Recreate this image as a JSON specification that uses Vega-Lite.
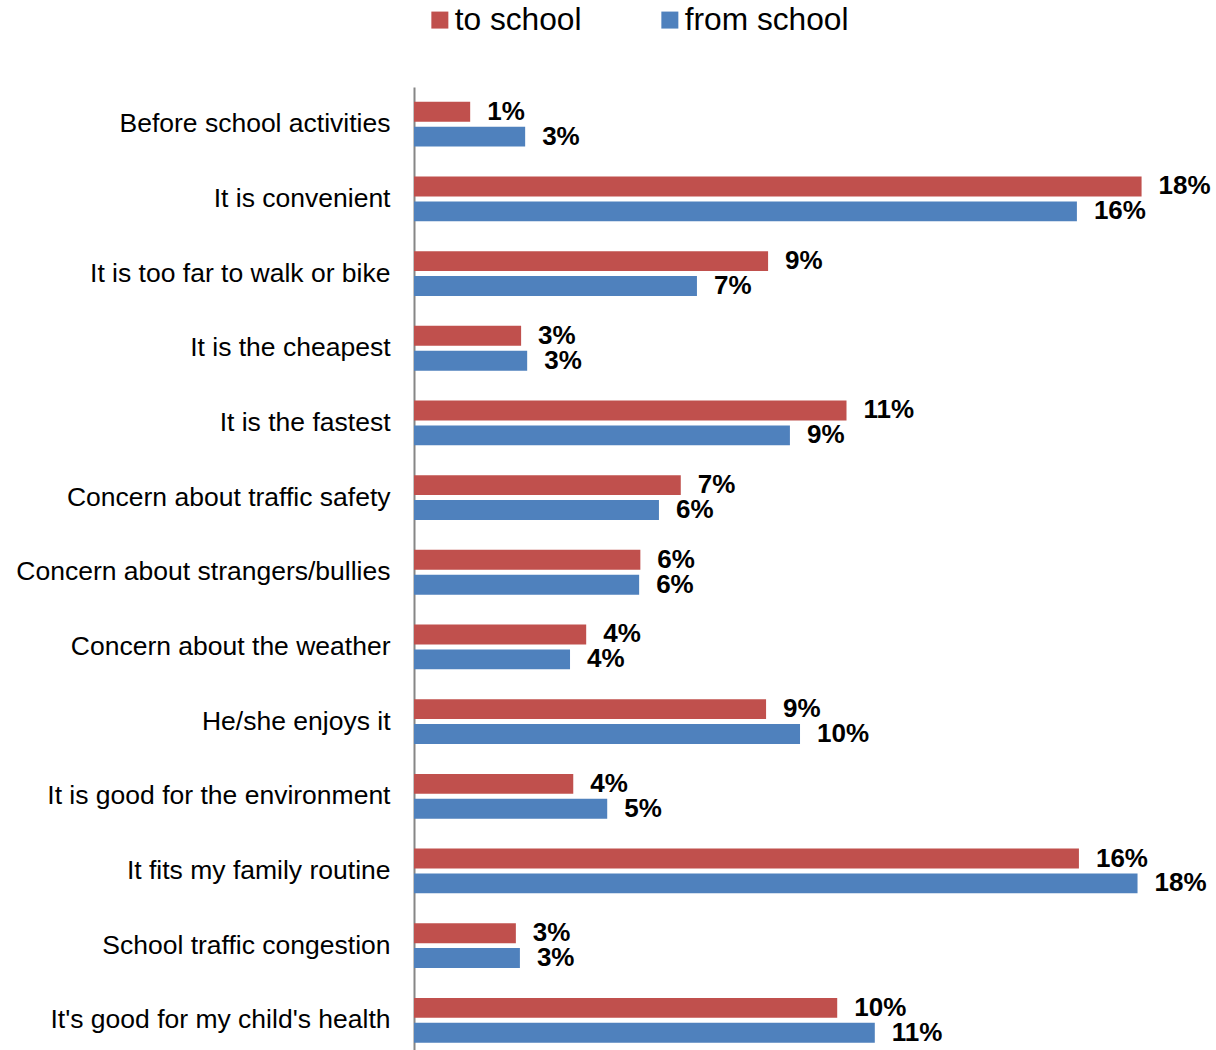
{
  "$schema": "https://vega.github.io/schema/vega-lite/v6.json",
  "autosize": {"type": "none"},
  "width": 768,
  "height": 963,
  "padding": {"left": 414, "top": 87, "right": 34, "bottom": 0},
  "background": "white",
  "config": {"view": {"stroke": null}, "font": "Liberation Sans"},
  "data": {"values": [
    {"reason": "Before school activities", "direction": "to school", "value": 0.0139},
    {"reason": "Before school activities", "direction": "from school", "value": 0.0275},
    {"reason": "It is convenient", "direction": "to school", "value": 0.180},
    {"reason": "It is convenient", "direction": "from school", "value": 0.164},
    {"reason": "It is too far to walk or bike", "direction": "to school", "value": 0.0876},
    {"reason": "It is too far to walk or bike", "direction": "from school", "value": 0.070},
    {"reason": "It is the cheapest", "direction": "to school", "value": 0.0265},
    {"reason": "It is the cheapest", "direction": "from school", "value": 0.028},
    {"reason": "It is the fastest", "direction": "to school", "value": 0.107},
    {"reason": "It is the fastest", "direction": "from school", "value": 0.093},
    {"reason": "Concern about traffic safety", "direction": "to school", "value": 0.066},
    {"reason": "Concern about traffic safety", "direction": "from school", "value": 0.0606},
    {"reason": "Concern about strangers/bullies", "direction": "to school", "value": 0.056},
    {"reason": "Concern about strangers/bullies", "direction": "from school", "value": 0.0557},
    {"reason": "Concern about the weather", "direction": "to school", "value": 0.0426},
    {"reason": "Concern about the weather", "direction": "from school", "value": 0.0386},
    {"reason": "He/she enjoys it", "direction": "to school", "value": 0.0871},
    {"reason": "He/she enjoys it", "direction": "from school", "value": 0.0955},
    {"reason": "It is good for the environment", "direction": "to school", "value": 0.0394},
    {"reason": "It is good for the environment", "direction": "from school", "value": 0.0478},
    {"reason": "It fits my family routine", "direction": "to school", "value": 0.1645},
    {"reason": "It fits my family routine", "direction": "from school", "value": 0.179},
    {"reason": "School traffic congestion", "direction": "to school", "value": 0.0252},
    {"reason": "School traffic congestion", "direction": "from school", "value": 0.0262},
    {"reason": "It's good for my child's health", "direction": "to school", "value": 0.1047},
    {"reason": "It's good for my child's health", "direction": "from school", "value": 0.114}
  ]},
  "encoding": {
    "y": {
      "field": "reason", "type": "nominal", "sort": null, "title": null,
      "scale": {"paddingInner": 0.4, "paddingOuter": 0.148, "align": 0.67},
      "axis": {"domainColor": "#868686", "domainWidth": 2, "ticks": false, "labelFontSize": 26.5, "labelColor": "black", "labelPadding": 24, "labelLimit": 600, "labelFont": "Liberation Sans"}
    },
    "yOffset": {"field": "direction", "type": "nominal", "sort": ["to school", "from school"], "scale": {"paddingInner": 0.2, "paddingOuter": 0}},
    "x": {"field": "value", "type": "quantitative", "scale": {"domain": [0, 0.19]}, "axis": null}
  },
  "layer": [
    {
      "mark": {"type": "bar"},
      "encoding": {
        "color": {
          "field": "direction", "type": "nominal",
          "scale": {"domain": ["to school", "from school"], "range": ["#C0504D", "#4F81BD"]},
          "legend": {"title": null, "orient": "none", "legendX": 10, "legendY": -83, "direction": "horizontal", "symbolType": "square", "symbolSize": 289, "symbolStrokeWidth": 0, "labelFontSize": 31.7, "labelFont": "Liberation Sans", "labelColor": "black", "labelLimit": 400, "columnPadding": 72, "labelOffset": -1, "padding": 0}
        }
      }
    },
    {
      "mark": {"type": "text", "align": "left", "baseline": "middle", "dx": 17, "fontWeight": "bold", "fontSize": 26, "font": "Liberation Sans", "color": "black"},
      "encoding": {"text": {"field": "value", "type": "quantitative", "format": ".0%"}}
    }
  ]
}
